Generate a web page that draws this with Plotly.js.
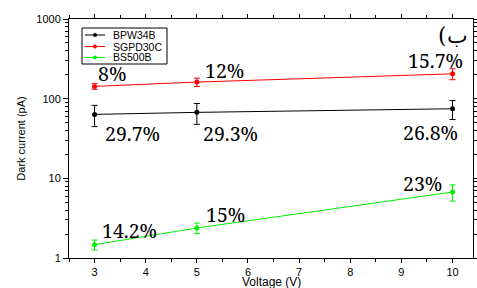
<!DOCTYPE html>
<html><head><meta charset="utf-8">
<script src="https://cdn.plot.ly/plotly-3.0.1.min.js"></script>
<style>html,body{margin:0;padding:0;background:#fff}</style>
</head><body>
<div id="chart" style="width:477px;height:288px"></div>
<script>
const voltage = [3, 5, 10];
const seriesNames = ['BPW34B', 'SGPD30C', 'BS500B'];
const bpw34b = [63.5, 67.3, 74.7];
const bpw34bErr = [18.9, 19.7, 20.0];
const bpw34bPct = ["29.7%", "29.3%", "26.8%"];
const sgpd30c = [142.6, 161.5, 205];
const sgpd30cErr = [11.4, 19.4, 32];
const sgpd30cPct = ["8%", "12%", "15.7%"];
const bs500b = [1.47, 2.38, 6.73];
const bs500bErr = [0.21, 0.36, 1.55];
const bs500bPct = ["14.2%", "15%", "23%"];
const colors = ['#000000', '#ff0000', '#00ee00'];

function trace(name, y, err, color) {
  return {
    x: voltage, y: y, name: name, type: 'scatter', mode: 'lines+markers',
    line: {color: color, width: 1},
    marker: {color: color, size: 5, symbol: 'circle'},
    error_y: {type: 'data', array: err, visible: true, color: color, thickness: 1, width: 3},
    showlegend: false
  };
}
const data = [
  trace(seriesNames[0], bpw34b, bpw34bErr, colors[0]),
  trace(seriesNames[1], sgpd30c, sgpd30cErr, colors[1]),
  trace(seriesNames[2], bs500b, bs500bErr, colors[2])
];

const serif = 'Noto Serif';
const sans = 'Liberation Sans';
const pctFont = {family: serif, size: 19.5, color: '#000'};
const annotations = [];
const shapes = [];
// label offsets in pixels relative to each data point
const offsets = {
  bpw: [[38, 19], [34, 21], [-22, 24]],
  sgpd: [[17, -13], [28, -12], [-17, -13]],
  bs: [[35, -14], [29, -14], [-30, -9]]
};
function addLabels(y, pcts, offs) {
  for (let i = 0; i < voltage.length; i++) {
    annotations.push({x: voltage[i], y: Math.log10(y[i]), xref: 'x', yref: 'y', text: pcts[i],
      showarrow: true, arrowcolor: 'rgba(0,0,0,0)', arrowwidth: 0.1, ax: offs[i][0], ay: offs[i][1],
      font: pctFont});
  }
}
addLabels(bpw34b, bpw34bPct, offsets.bpw);
addLabels(sgpd30c, sgpd30cPct, offsets.sgpd);
addLabels(bs500b, bs500bPct, offsets.bs);
annotations.push({x: 0.993, y: 0.929, xref: 'paper', yref: 'paper', text: '(ب', showarrow: false,
  xanchor: 'right', yanchor: 'middle',
  font: {family: 'DejaVu Serif', size: 22, color: '#000'}});
// x axis title placed like the reference
annotations.push({x: 0.5, y: -0.1, xref: 'paper', yref: 'paper', text: 'Voltage (V)', showarrow: false,
  xanchor: 'center', yanchor: 'middle', font: {family: sans, size: 12, color: '#000'}});

// compact legend drawn as shapes/text (plot area spans 69..473 x, 19..258 y in pixels)
const PW = 404, PH = 239;
function px(x) { return (x - 69) / PW; }
function py(y) { return (258 - y) / PH; }
shapes.push({type: 'rect', xref: 'paper', yref: 'paper', x0: px(82), x1: px(167), y0: py(28), y1: py(64),
  line: {color: '#000', width: 1}, fillcolor: '#fff', layer: 'above'});
const rowY = [35, 46.5, 57.5];
for (let i = 0; i < seriesNames.length; i++) {
  shapes.push({type: 'line', xref: 'paper', yref: 'paper', x0: px(85), x1: px(105), y0: py(rowY[i]), y1: py(rowY[i]),
    line: {color: colors[i], width: 1}, layer: 'above'});
  shapes.push({type: 'circle', xref: 'paper', yref: 'paper', x0: px(93.2), x1: px(96.8), y0: py(rowY[i] - 1.8), y1: py(rowY[i] + 1.8),
    line: {color: colors[i], width: 0.5}, fillcolor: colors[i], layer: 'above'});
  annotations.push({x: px(111), y: py(rowY[i]), xref: 'paper', yref: 'paper', text: seriesNames[i], showarrow: false,
    xanchor: 'left', yanchor: 'middle', font: {family: sans, size: 10.5, color: '#000'}});
}

const axisFont = {family: sans, size: 11, color: '#000'};
const layout = {
  width: 477, height: 288,
  margin: {l: 69, r: 4, t: 19, b: 30},
  paper_bgcolor: '#fff', plot_bgcolor: '#fff',
  showlegend: false,
  xaxis: {
    range: [2.5, 10.4], dtick: 1, tick0: 0, showgrid: false, zeroline: false,
    showline: true, linecolor: '#000', linewidth: 1, mirror: 'ticks',
    ticks: 'outside', ticklen: 4, tickcolor: '#000', tickfont: axisFont,
    minor: {dtick: 0.5, ticks: 'outside', ticklen: 3, tickcolor: '#000'}
  },
  yaxis: {
    type: 'log', range: [0, 3], dtick: 1, showgrid: false, zeroline: false,
    showline: true, linecolor: '#000', linewidth: 1, mirror: 'ticks',
    ticks: 'outside', ticklen: 5, tickcolor: '#000', tickfont: axisFont,
    minor: {dtick: 'D1', ticks: 'outside', ticklen: 3, tickcolor: '#000'},
    title: {text: 'Dark current (pA)', font: {family: sans, size: 11, color: '#000'}, standoff: 8}
  },
  shapes: shapes,
  annotations: annotations
};
Plotly.newPlot('chart', data, layout, {displayModeBar: false, staticPlot: true});
</script>
</body></html>
